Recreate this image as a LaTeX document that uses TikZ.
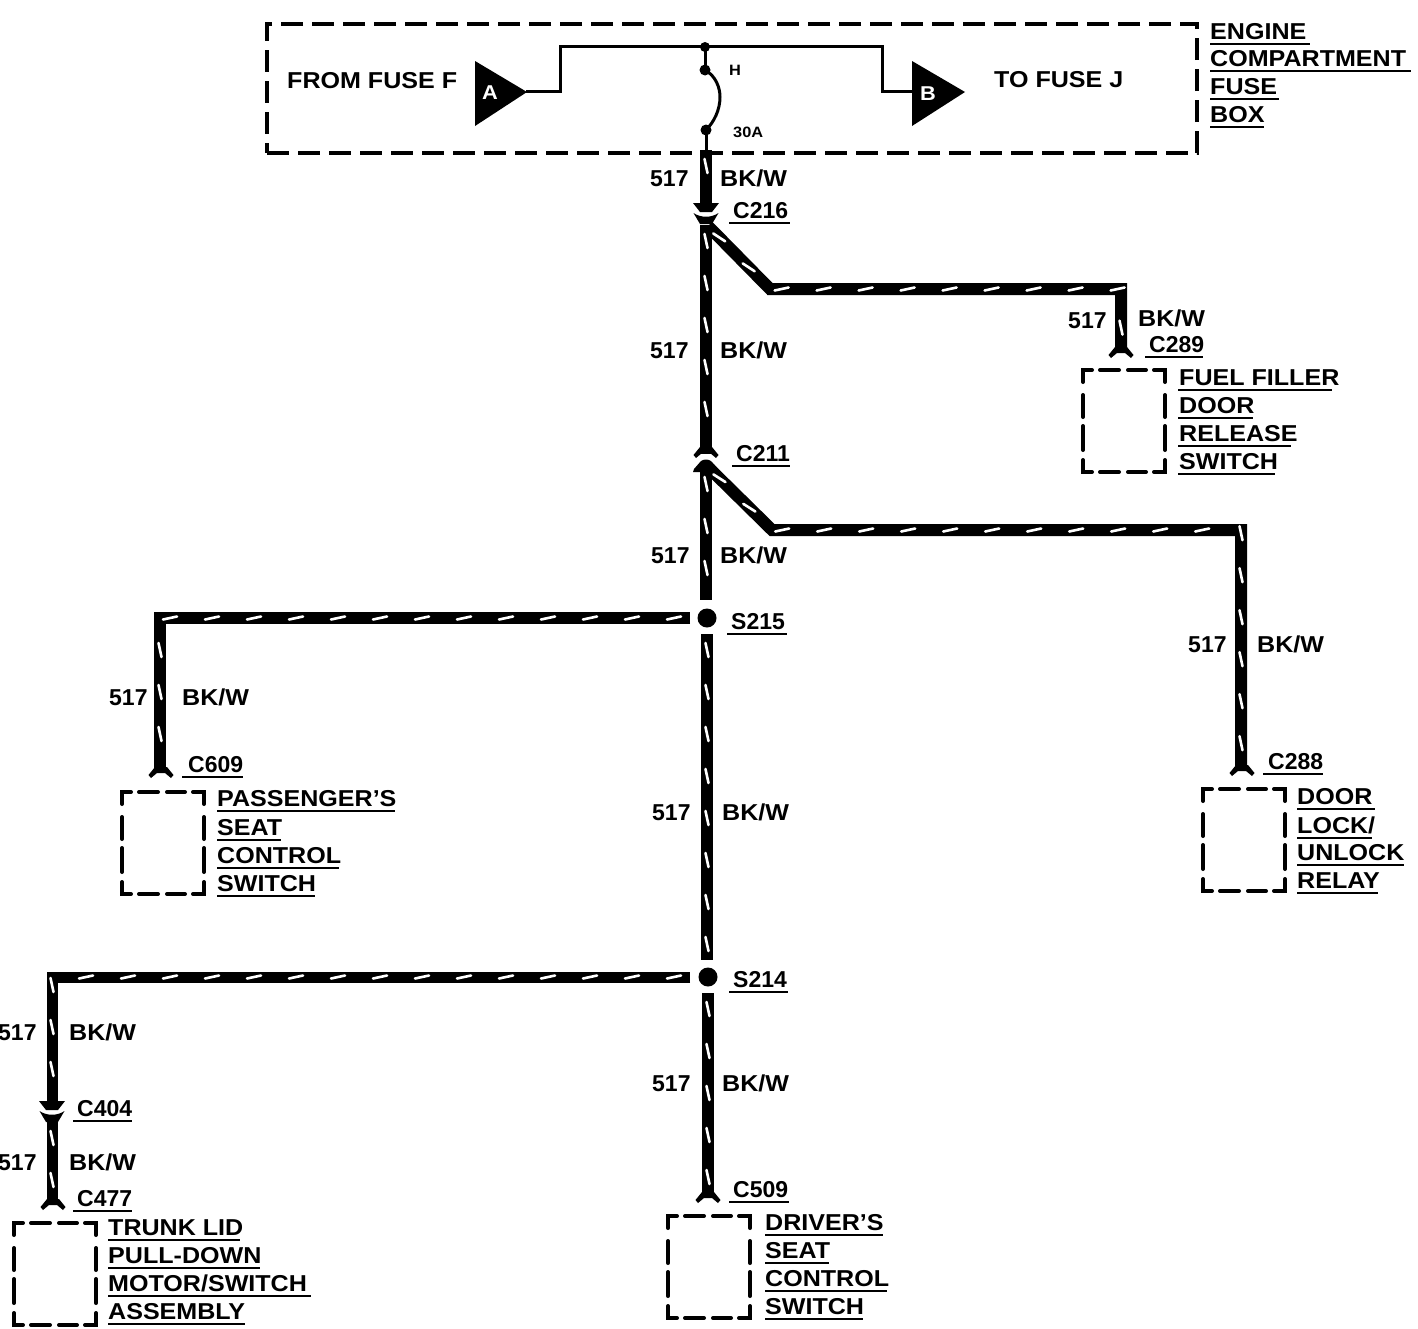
\documentclass[tikz,border=0pt]{standalone}
\usepackage{fontspec}
\setmainfont{Liberation Sans}[FakeStretch=1.09]
\newfontfamily\tagfont{Liberation Sans}[FakeStretch=1.0]
\usetikzlibrary{decorations.markings}
\tikzset{
  lbl/.style={anchor=base west,inner sep=0pt,font=\fontsize{23}{23}\selectfont\bfseries},
  tag/.style={anchor=base west,inner sep=0pt,font=\tagfont\fontsize{23}{23}\selectfont\bfseries},
  tiny/.style={anchor=base west,inner sep=0pt,font=\fontsize{15}{15}\selectfont\bfseries},
  ul/.style={line width=2.2pt},
  stripes/.style={decoration={markings,mark=between positions 16pt and -8pt step 42pt with {
      \draw[white,line width=2.6pt,line cap=round] (-7pt,-1.5pt) -- (7pt,1.5pt);}},postaction={decorate}},
  wire/.style={line width=12pt,miter limit=10,stripes},
  thinw/.style={line width=3pt},
  dashline/.style={line width=4pt,line cap=round},
  fusebox/.style={draw,line width=4pt,dash pattern=on 22pt off 9pt,inner sep=0pt,minimum width=930pt,minimum height=129pt},
  dot/.style={circle,fill=black,inner sep=0pt},
  boxarea/.style={inner sep=0pt,minimum width=82pt,minimum height=102pt},
  flare/.pic={\fill (-6,-11) -- (-12.5,-3) -- (-10,0) -- (-4,-5) -- (4,-5) -- (10,0) -- (12.5,-3) -- (6,-11) -- cycle;},
  headdown/.pic={\fill (-13,0) -- (13,0) -- (6,9) -- (-6,9) -- cycle;},
  cupbelow/.pic={\fill (-12.5,0) .. controls (-5,5) and (5,5) .. (12.5,0) -- (6,11) -- (-6,11) -- cycle;},
  headup/.pic={\fill (-13,0) -- (-12,-3) -- (-5,-11) .. controls (-2,-13) and (2,-13) .. (5,-11) -- (12,-3) -- (13,0) -- cycle;}
}
\newcommand{\txt}[4]{\node[lbl] (#1) at (#2,#3) {#4};}
\newcommand{\num}[4]{\node[tag] (#1) at (#2,#3) {#4};}
\newcommand{\lab}[6]{\node[lbl] (#1) at (#2,#3) {#4}; \draw[ul] (#5,#3+5) -- (#6,#3+5);}
\newcommand{\tagl}[6]{\node[tag] (#1) at (#2,#3) {#4}; \draw[ul] (#5,#3+5) -- (#6,#3+5);}
\newcommand{\dbox}[3]{%
  \node[boxarea,anchor=north west] (#1) at (#2,#3) {};
  \begin{scope}[shift={(#2,#3)}]
  \draw[dashline] (0,12) -- (0,0) -- (9,0) (17,0) -- (36,0) (45,0) -- (63,0) (71,0) -- (82,0) -- (82,12);
  \draw[dashline] (0,25) -- (0,47) (0,56) -- (0,80) (82,25) -- (82,47) (82,56) -- (82,80);
  \draw[dashline] (0,90) -- (0,102) -- (9,102) (17,102) -- (36,102) (45,102) -- (63,102) (71,102) -- (82,102) -- (82,90);
  \end{scope}}
\begin{document}
\begin{tikzpicture}[x=1pt,y=-1pt]
\useasboundingbox (0,0) rectangle (1418,1328);
% fuse box
\node[fusebox,anchor=north west] (fbox) at (265,22) {};
\fill (475,61) -- (475,126) -- (527,92) -- cycle;
\fill (912,61) -- (912,126) -- (965,92) -- cycle;
\node[tiny,text=white,font=\fontsize{20}{20}\selectfont\bfseries] (ta) at (482,99) {A};
\node[tiny,text=white,font=\fontsize{20}{20}\selectfont\bfseries] (tb) at (920,100) {B};
\coordinate (ain) at (526,91); \coordinate (bin) at (912,91);
\coordinate (ka) at (560,91); \coordinate (kb) at (560,46);
\coordinate (kc) at (882,46); \coordinate (kd) at (882,91);
\draw[thinw] (ain) -- (ka) -- (kb) -- (kc) -- (kd) -- (bin);
\node[dot,minimum size=10pt] (j0) at (705,47) {};
\node[dot,minimum size=11pt] (j1) at (705,70) {};
\node[dot,minimum size=11pt] (j2) at (706,130) {};
\coordinate (fb) at (706,150);
\draw[thinw] (j0.center) -- (j1.center);
\draw[thinw] (j1.center) .. controls (716,76) and (720,88) .. (720,97) .. controls (720,110) and (714,122) .. (j2.center);
\draw[thinw] (j2.center) -- (fb);
\node[tiny] (h) at (729,75) {H};
\node[tiny] (a30) at (733,137) {30A};
\txt{ff}{287}{88}{FROM FUSE F}
\txt{tf}{994}{87}{TO FUSE J}
\lab{e1}{1210}{39}{ENGINE}{1210}{1310}
\lab{e2}{1210}{66}{COMPARTMENT}{1210}{1411}
\lab{e3}{1210}{94}{FUSE}{1210}{1279}
\lab{e4}{1210}{122}{BOX}{1210}{1264}
% coordinates
\coordinate (w216a) at (706,150); \coordinate (w216b) at (706,205);
\coordinate (w216c) at (706,225); \coordinate (w211a) at (706,454);
\coordinate (w211b) at (706,468);
\node[dot,minimum size=19pt] (s215) at (707,618) {};
\node[dot,minimum size=19pt] (s214) at (708,977) {};
\coordinate (s215t) at (706,600); \coordinate (s215b) at (707,634);
\coordinate (s215l) at (690,618); \coordinate (s214t) at (707,960);
\coordinate (s214l) at (690,977); \coordinate (s214b) at (708,993);
\coordinate (d1a) at (708,226); \coordinate (d1b) at (770,289);
\coordinate (d1c) at (1121,289); \coordinate (d1d) at (1121,352);
\coordinate (d2a) at (708,467); \coordinate (d2b) at (772,530);
\coordinate (d2c) at (1241,530); \coordinate (d2d) at (1241,770);
\coordinate (l1a) at (160,618); \coordinate (l1b) at (160,772);
\coordinate (l2a) at (52,977); \coordinate (l2b) at (52,1102);
\coordinate (l3a) at (52,1122); \coordinate (l3b) at (52,1204);
\coordinate (m1) at (708,1197);
% wires
\draw[wire] (w216a) -- (w216b);
\draw[wire] (w216c) -- (w211a);
\draw[wire] (w211b) -- (s215t);
\draw[wire] (d1a) -- (d1b) -- (d1c) -- (d1d);
\draw[wire] (d2a) -- (d2b) -- (d2c) -- (d2d);
\draw[wire] (s215l) -- (l1a) -- (l1b);
\draw[wire] (s215b) -- (s214t);
\draw[wire,line width=11pt] (s214l) -- (l2a) -- (l2b);
\draw[wire,line width=11pt] (l3a) -- (l3b);
\draw[wire] (s214b) -- (m1);
% connector marks
\pic at (706,203) {headdown};
\pic at (706,213) {cupbelow};
\pic at (706,458) {flare};
\pic at (706,472) {headup};
\pic at (1121,358) {flare};
\pic at (161,778) {flare};
\pic at (1242,776) {flare};
\pic at (708,1203) {flare};
\pic at (53,1210) {flare};
\pic at (52,1101) {headdown};
\pic at (52,1111) {cupbelow};
% boxes
\dbox{b289}{1083}{370}
\dbox{b609}{122}{792}
\dbox{b288}{1203}{789}
\dbox{b509}{668}{1216}
\dbox{b477}{14}{1223}
% wire labels
\num{n1}{650}{186}{517}\txt{c1}{720}{186}{BK/W}
\tagl{c216}{733}{218}{C216}{729}{790}
\num{n2}{650}{358}{517}\txt{c2}{720}{358}{BK/W}
\num{n3}{1068}{328}{517}\txt{c3}{1138}{326}{BK/W}
\tagl{c289}{1149}{352}{C289}{1145}{1203}
\lab{f1}{1179}{385}{FUEL FILLER}{1178}{1332}
\lab{f2}{1179}{413}{DOOR}{1178}{1253}
\lab{f3}{1179}{441}{RELEASE}{1178}{1291}
\lab{f4}{1179}{469}{SWITCH}{1178}{1275}
\tagl{c211}{736}{461}{C211}{732}{790}
\num{n4}{651}{563}{517}\txt{c4}{720}{563}{BK/W}
\tagl{lS215}{731}{629}{S215}{727}{787}
\num{n5}{1188}{652}{517}\txt{c5}{1257}{652}{BK/W}
\num{n6}{109}{705}{517}\txt{c6}{182}{705}{BK/W}
\tagl{c609}{188}{772}{C609}{182}{243}
\tagl{c288}{1268}{769}{C288}{1263}{1323}
\lab{p1}{217}{806}{PASSENGER'S}{217}{395}
\lab{p2}{217}{835}{SEAT}{217}{281}
\lab{p3}{217}{863}{CONTROL}{217}{339}
\lab{p4}{217}{891}{SWITCH}{217}{315}
\lab{r1}{1297}{804}{DOOR}{1297}{1375}
\lab{r2}{1297}{833}{LOCK/}{1297}{1372}
\lab{r3}{1297}{860}{UNLOCK}{1297}{1404}
\lab{r4}{1297}{888}{RELAY}{1297}{1378}
\num{n7}{652}{820}{517}\txt{c7}{722}{820}{BK/W}
\tagl{lS214}{733}{987}{S214}{729}{788}
\num{n8}{-2}{1040}{517}\txt{c8}{69}{1040}{BK/W}
\tagl{c404}{77}{1116}{C404}{73}{132}
\num{n9}{-2}{1170}{517}\txt{c9}{69}{1170}{BK/W}
\tagl{c477}{77}{1206}{C477}{73}{132}
\lab{t1}{108}{1235}{TRUNK LID}{108}{240}
\lab{t2}{108}{1263}{PULL-DOWN}{108}{260}
\lab{t3}{108}{1291}{MOTOR/SWITCH}{108}{311}
\lab{t4}{108}{1319}{ASSEMBLY}{108}{245}
\num{n10}{652}{1091}{517}\txt{c10}{722}{1091}{BK/W}
\tagl{c509}{733}{1197}{C509}{729}{789}
\lab{g1}{765}{1230}{DRIVER'S}{765}{883}
\lab{g2}{765}{1258}{SEAT}{765}{829}
\lab{g3}{765}{1286}{CONTROL}{765}{887}
\lab{g4}{765}{1314}{SWITCH}{765}{863}
\end{tikzpicture}
\end{document}
